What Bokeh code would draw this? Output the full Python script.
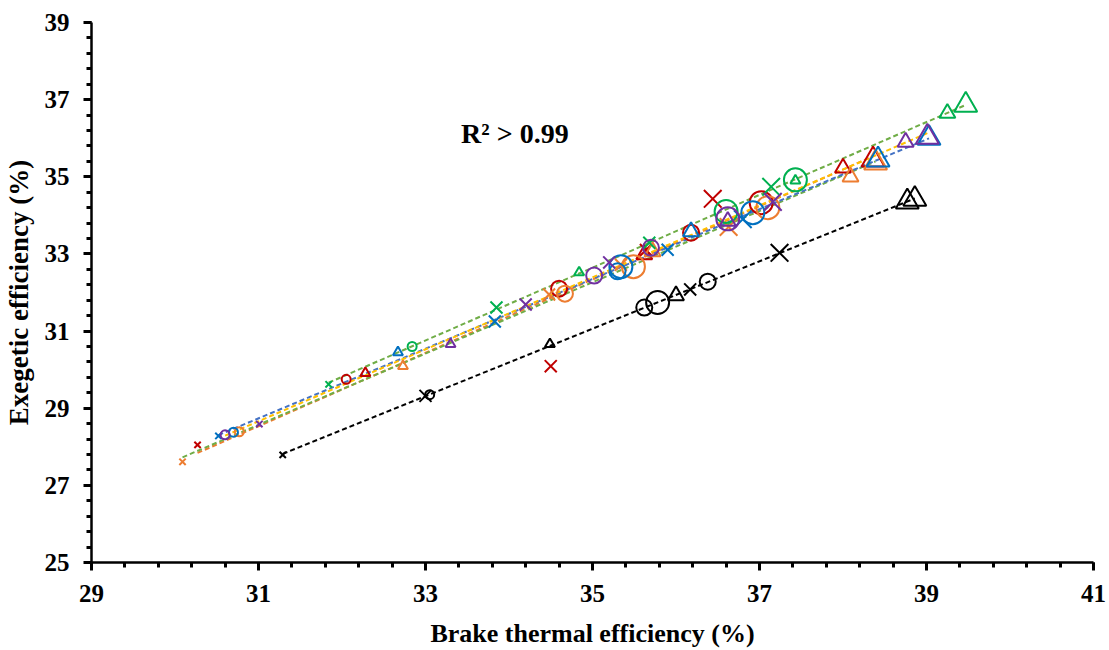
import numpy as np
from bokeh.plotting import figure
from bokeh.models import Range1d, FixedTicker, ColumnDataSource, Label
from bokeh.embed import file_html
from bokeh.resources import INLINE

# ---------------- data ----------------
x_ticks = [29, 31, 33, 35, 37, 39, 41]
y_ticks = [25, 27, 29, 31, 33, 35, 37, 39]

red_x = [30.27, 32.05, 32.28, 34.50, 34.60, 35.62, 35.64, 36.18, 36.44, 37.02, 38.00, 38.36]
red_y = [28.05, 29.75, 29.91, 30.09, 32.10, 32.98, 33.10, 33.55, 34.43, 34.33, 35.23, 35.44]
red_m = ["x", "circle", "triangle", "x", "circle", "triangle", "x", "circle", "x", "circle", "triangle", "triangle"]
red_s = ["s", "s", "s", "m", "m", "m", "m", "m", "l", "l", "m", "l"]

orange_x = [30.09, 30.77, 32.73, 34.48, 34.67, 35.34, 35.49, 35.72, 36.63, 37.10, 38.09, 38.39]
orange_y = [27.61, 28.39, 30.09, 31.95, 31.97, 32.72, 32.67, 33.06, 33.70, 34.20, 35.00, 35.36]
orange_m = ["x", "circle", "triangle", "x", "circle", "x", "circle", "triangle", "x", "circle", "triangle", "triangle"]
orange_s = ["s", "s", "s", "m", "m", "m", "l", "m", "l", "l", "m", "l"]

green_x = [31.84, 32.84, 33.85, 34.84, 35.68, 36.60, 37.14, 37.43, 37.43, 39.25, 39.47]
green_y = [29.62, 30.60, 31.61, 32.52, 33.29, 34.10, 34.74, 34.92, 34.90, 36.65, 36.86]
green_m = ["x", "circle", "x", "triangle", "x", "circle", "x", "circle", "triangle", "triangle", "triangle"]
green_s = ["s", "s", "m", "s", "m", "l", "l", "l", "s", "m", "l"]

blue_x = [30.52, 30.70, 32.67, 33.83, 35.30, 35.34, 35.90, 36.18, 36.80, 36.92, 38.42, 39.03]
blue_y = [28.28, 28.38, 30.45, 31.25, 32.55, 32.67, 33.11, 33.58, 33.90, 34.07, 35.44, 36.00]
blue_m = ["x", "circle", "triangle", "x", "circle", "circle", "x", "triangle", "x", "circle", "triangle", "triangle"]
blue_s = ["s", "s", "s", "m", "m", "l", "m", "m", "l", "l", "l", "l"]

purple_x = [30.60, 31.01, 33.30, 34.20, 35.02, 35.20, 35.70, 36.62, 36.62, 37.16, 38.75, 39.01]
purple_y = [28.31, 28.59, 30.66, 31.69, 32.44, 32.78, 33.16, 33.91, 33.85, 34.35, 35.90, 36.03]
purple_m = ["circle", "x", "triangle", "x", "circle", "x", "circle", "circle", "triangle", "x", "triangle", "triangle"]
purple_s = ["s", "s", "s", "m", "m", "m", "m", "l", "m", "l", "m", "l"]

black_x = [31.29, 33.00, 33.05, 34.49, 35.62, 35.78, 36.00, 36.17, 36.38, 37.24, 38.77, 38.86]
black_y = [27.79, 29.32, 29.35, 30.66, 31.61, 31.74, 31.92, 32.08, 32.28, 33.03, 34.35, 34.42]
black_m = ["x", "x", "circle", "triangle", "circle", "circle", "triangle", "x", "circle", "x", "triangle", "triangle"]
black_s = ["s", "m", "s", "s", "m", "l", "m", "m", "m", "l", "l", "l"]

r2_text = "R² > 0.99"

# ---------------- style ----------------
FONT = "Liberation Serif"
size_px = {
    "x": {"s": 9, "m": 17, "l": 25},
    "circle": {"s": 9, "m": 16, "l": 23},
    "triangle": {"s": 10, "m": 16, "l": 23},
}

series = [
    (red_x, red_y, red_m, red_s, "#C00000", "#ED7D31"),
    (orange_x, orange_y, orange_m, orange_s, "#ED7D31", "#70AD47"),
    (green_x, green_y, green_m, green_s, "#00B050", "#70AD47"),
    (blue_x, blue_y, blue_m, blue_s, "#0070C0", "#4472C4"),
    (purple_x, purple_y, purple_m, purple_s, "#7030A0", "#FFC000"),
    (black_x, black_y, black_m, black_s, "#000000", "#000000"),
]

p = figure(width=1109, height=650, output_backend="svg", toolbar_location=None,
           x_range=Range1d(29, 41), y_range=Range1d(25, 39),
           min_border_left=90, min_border_right=16, min_border_top=22, min_border_bottom=86)
p.outline_line_color = None
p.xgrid.grid_line_color = None
p.ygrid.grid_line_color = None
p.background_fill_color = "white"
p.border_fill_color = "white"

# trendlines
for xs, ys, ms, ss, mc, lc in series:
    xa = np.array(xs)
    ya = np.array(ys)
    k, b = np.polyfit(xa, ya, 1)
    x0, x1 = xa.min(), xa.max()
    p.line([x0, x1], [k * x0 + b, k * x1 + b], line_color=lc, line_width=2, line_dash="5 3")

# markers
for xs, ys, ms, ss, mc, lc in series:
    src = ColumnDataSource(dict(
        x=xs, y=ys, marker=ms,
        size=[size_px[m][s] for m, s in zip(ms, ss)],
    ))
    p.scatter("x", "y", marker="marker", size="size", source=src,
              line_color=mc, fill_color=None, line_width=2)

for ax in (p.xaxis[0], p.yaxis[0]):
    ax.axis_line_width = 2.5
    ax.axis_line_color = "black"
    ax.major_tick_line_width = 3
    ax.minor_tick_line_width = 3
    ax.major_tick_line_color = "black"
    ax.minor_tick_line_color = "black"
    ax.major_tick_out = 8
    ax.major_tick_in = 0
    ax.minor_tick_out = 5
    ax.minor_tick_in = 0
    ax.major_label_text_font = FONT
    ax.major_label_text_font_style = "bold"
    ax.major_label_text_font_size = "25px"
    ax.major_label_text_color = "black"
    ax.axis_label_text_font = FONT
    ax.axis_label_text_font_style = "bold"
    ax.axis_label_text_color = "black"

p.xaxis.axis_label_text_font_size = "26px"
p.yaxis.axis_label_text_font_size = "27px"
p.xaxis.ticker = FixedTicker(ticks=x_ticks, minor_ticks=list(np.arange(29, 41.001, 0.4)))
p.yaxis.ticker = FixedTicker(ticks=y_ticks, minor_ticks=list(np.arange(25, 39.001, 0.4)))
p.xaxis.axis_label = "Brake thermal efficiency (%)"
p.yaxis.axis_label = "Exegetic efficiency (%)"
p.xaxis.major_label_standoff = 14
p.yaxis.major_label_standoff = 14
p.xaxis.axis_label_standoff = 14
p.yaxis.axis_label_standoff = 8

p.add_layout(Label(x=34.07, y=36.13, text=r2_text, text_font=FONT, text_font_style="bold",
                   text_font_size="28px", text_color="black",
                   text_align="center", text_baseline="middle"))

open("out.html", "w").write(file_html(p, INLINE))
